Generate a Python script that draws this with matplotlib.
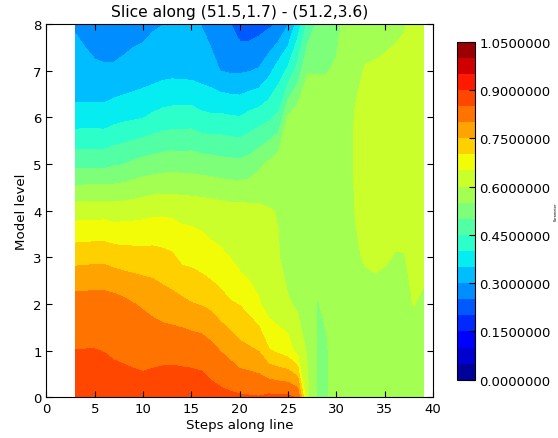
import numpy as np
import matplotlib
matplotlib.use("Agg")
import matplotlib.pyplot as plt

# steps along the slice and model levels of the grid
steps = list(range(3, 40))
model_levels = [0, 1, 2, 3, 4, 5, 6, 7, 8]

# parameter value per step (one list per step, bottom level first)
param_by_step = [
    [0.875, 0.851, 0.824, 0.733, 0.626, 0.486, 0.371, 0.304, 0.299],   # 3
    [0.875, 0.851, 0.825, 0.735, 0.628, 0.487, 0.372, 0.305, 0.295],   # 4
    [0.875, 0.851, 0.826, 0.736, 0.628, 0.487, 0.372, 0.305, 0.285],   # 5
    [0.875, 0.849, 0.826, 0.736, 0.629, 0.486, 0.371, 0.305, 0.275],   # 6
    [0.870, 0.845, 0.821, 0.729, 0.624, 0.495, 0.382, 0.304, 0.282],   # 7
    [0.875, 0.840, 0.813, 0.724, 0.627, 0.499, 0.389, 0.308, 0.284],   # 8
    [0.875, 0.835, 0.8015, 0.723, 0.629, 0.510, 0.393, 0.315, 0.285],  # 9
    [0.875, 0.830, 0.7955, 0.720, 0.633, 0.518, 0.398, 0.321, 0.286],  # 10
    [0.875, 0.835, 0.786, 0.720, 0.639, 0.523, 0.409, 0.325, 0.295],   # 11
    [0.875, 0.838, 0.775, 0.715, 0.640, 0.528, 0.417, 0.332, 0.299],   # 12
    [0.875, 0.839, 0.768, 0.708, 0.638, 0.531, 0.421, 0.335, 0.310],   # 13
    [0.875, 0.837, 0.762, 0.688, 0.635, 0.529, 0.422, 0.333, 0.315],   # 14
    [0.875, 0.835, 0.752, 0.685, 0.632, 0.530, 0.424, 0.331, 0.305],   # 15
    [0.875, 0.831, 0.7475, 0.676, 0.630, 0.525, 0.412, 0.325, 0.299],  # 16
    [0.870, 0.816, 0.7385, 0.664, 0.627, 0.522, 0.408, 0.317, 0.283],  # 17
    [0.865, 0.799, 0.721, 0.658, 0.623, 0.517, 0.410, 0.299, 0.260],   # 18
    [0.860, 0.785, 0.705, 0.6495, 0.619, 0.515, 0.405, 0.294, 0.252],  # 19
    [0.857, 0.765, 0.698, 0.631, 0.620, 0.512, 0.402, 0.293, 0.225],   # 20
    [0.855, 0.758, 0.681, 0.619, 0.615, 0.520, 0.416, 0.298, 0.222],   # 21
    [0.853, 0.748, 0.655, 0.622, 0.611, 0.540, 0.426, 0.305, 0.231],   # 22
    [0.862, 0.705, 0.627, 0.615, 0.603, 0.558, 0.440, 0.335, 0.240],   # 23
    [0.860, 0.690, 0.615, 0.603, 0.598, 0.580, 0.460, 0.375, 0.255],   # 24
    [0.860, 0.675, 0.605, 0.580, 0.575, 0.565, 0.555, 0.410, 0.297],   # 25
    [0.845, 0.630, 0.593, 0.585, 0.580, 0.578, 0.580, 0.470, 0.370],   # 26
    [0.610, 0.595, 0.580, 0.578, 0.575, 0.575, 0.570, 0.548, 0.460],   # 27
    [0.546, 0.547, 0.548, 0.564, 0.570, 0.572, 0.570, 0.548, 0.510],   # 28
    [0.542, 0.546, 0.556, 0.570, 0.575, 0.575, 0.570, 0.548, 0.520],   # 29
    [0.575, 0.572, 0.570, 0.575, 0.580, 0.582, 0.580, 0.556, 0.535],   # 30
    [0.575, 0.575, 0.578, 0.585, 0.590, 0.592, 0.590, 0.580, 0.565],   # 31
    [0.580, 0.580, 0.585, 0.597, 0.601, 0.603, 0.602, 0.595, 0.585],   # 32
    [0.585, 0.585, 0.590, 0.6022, 0.605, 0.607, 0.606, 0.6015, 0.590], # 33
    [0.585, 0.585, 0.590, 0.605, 0.608, 0.610, 0.610, 0.603, 0.590],   # 34
    [0.585, 0.585, 0.590, 0.6025, 0.608, 0.610, 0.610, 0.604, 0.593],  # 35
    [0.585, 0.587, 0.592, 0.599, 0.607, 0.610, 0.610, 0.605, 0.596],   # 36
    [0.585, 0.588, 0.594, 0.599, 0.608, 0.610, 0.610, 0.606, 0.5985],  # 37
    [0.585, 0.590, 0.6005, 0.605, 0.608, 0.610, 0.610, 0.608, 0.605],  # 38
    [0.585, 0.590, 0.597, 0.605, 0.608, 0.610, 0.610, 0.608, 0.606],   # 39
]

contour_levels = np.linspace(0.0, 1.05, 22)
cbar_ticks = [0.0, 0.15, 0.3, 0.45, 0.6, 0.75, 0.9, 1.05]

fig = plt.figure(figsize=(5.58, 4.39), dpi=100)
ax = fig.add_axes([0.0833, 0.0923, 0.6926, 0.8507])
cax = fig.add_axes([0.819, 0.1328, 0.0323, 0.77])

X, Y = np.meshgrid(steps, model_levels)
Z = np.array(param_by_step).T
cs = ax.contourf(X, Y, Z, levels=contour_levels, cmap='jet')

ax.set_xlim(0, 40)
ax.set_ylim(0, 8)
ax.set_xticks(range(0, 41, 5))
ax.set_yticks(range(0, 9))
ax.tick_params(direction='in', top=True, right=True, labelsize=9.5, length=4)
ax.set_title("Slice along (51.5,1.7) - (51.2,3.6)", fontsize=11.2)
ax.set_xlabel("Steps along line", fontsize=9.6, labelpad=2)
ax.set_ylabel("Model level", fontsize=9.6)

cb = fig.colorbar(cs, cax=cax, ticks=cbar_ticks, format='%.7f')
cb.ax.tick_params(direction='in', labelsize=9.5, length=4, pad=3)
cb.set_label('Parameter', fontsize=2.5, labelpad=2)

fig.savefig("out.png", dpi=100)
